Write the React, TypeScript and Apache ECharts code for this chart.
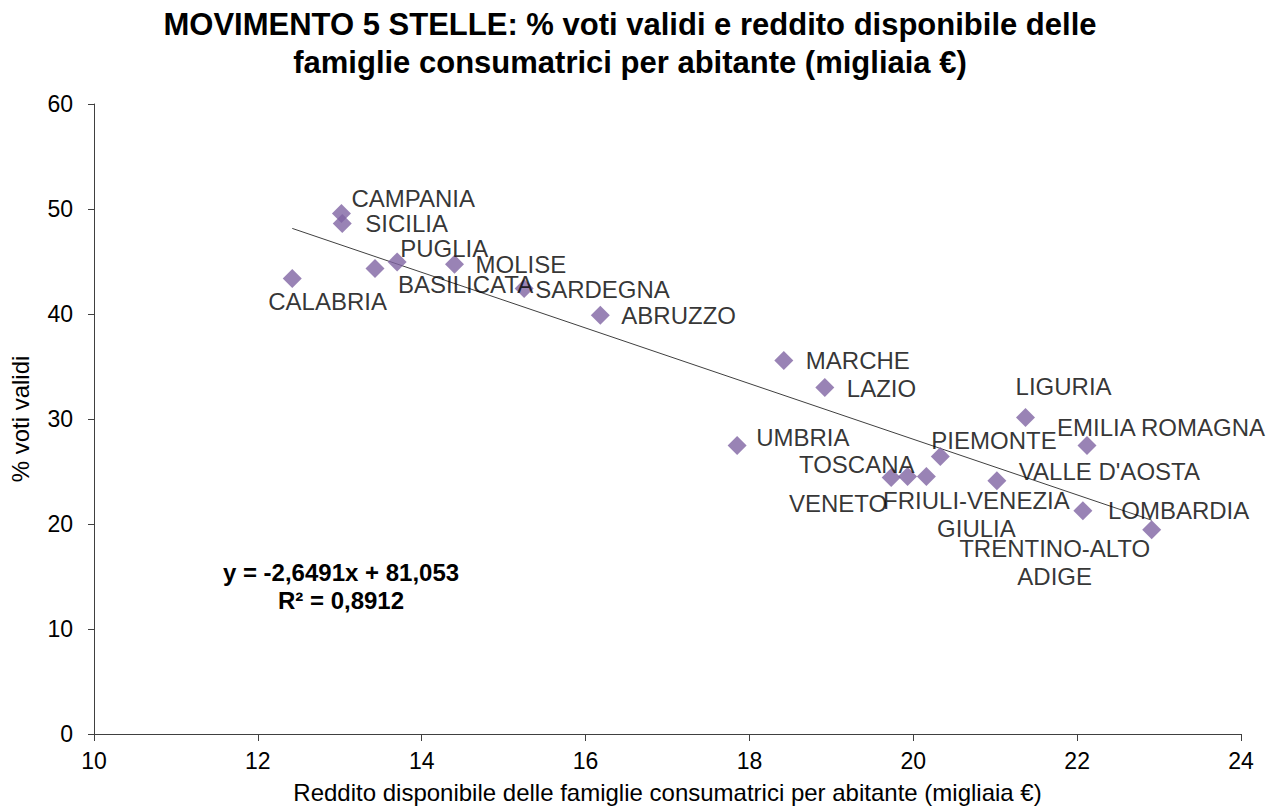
import React, { useEffect, useRef } from "react";
import * as echarts from "echarts";

const regions = [
  "CAMPANIA", "SICILIA", "CALABRIA", "BASILICATA", "PUGLIA", "MOLISE", "SARDEGNA",
  "ABRUZZO", "MARCHE", "LAZIO", "UMBRIA", "LIGURIA", "EMILIA ROMAGNA", "PIEMONTE",
  "TOSCANA", "VENETO", "FRIULI-VENEZIA\nGIULIA", "VALLE D'AOSTA", "LOMBARDIA",
  "TRENTINO-ALTO\nADIGE",
];
const income = [
  13.02, 13.03, 12.42, 13.43, 13.70, 14.40, 15.25,
  16.18, 18.42, 18.92, 17.85, 21.37, 22.12, 20.33,
  19.93, 19.73, 20.16, 21.02, 22.07, 22.91,
];
const votes = [
  49.58, 48.62, 43.37, 44.33, 44.96, 44.74, 42.42,
  39.87, 35.58, 33.01, 27.48, 30.14, 27.47, 26.42,
  24.52, 24.42, 24.52, 24.13, 21.27, 19.46,
];
// label placement (manual, as in the original chart)
const labelAlign = [
  "left", "left", "left", "left", "left", "left", "left",
  "left", "left", "left", "left", "left", "left", "left",
  "right", "right", "center", "left", "left", "center",
];
const labelDx = [10, 23, -24, 23, 3, 21, 11, 21, 22, 22, 19, -10, -30, -9, 7, -4, 50, 22, 25, -97];
const labelDy = [-15, 0, 23, 16, -13, 0, 1, 0, 0, 1, -8, -31, -18, -16, -12, 26, 38, -9, 0, 33];

const trendSlope = -2.6491;
const trendIntercept = 81.053;
const rSquared = 0.8912;

const xMin = 10, xMax = 24, xStep = 2;
const yMin = 0, yMax = 60, yStep = 10;

const titleText =
  "MOVIMENTO 5 STELLE: % voti validi e reddito disponibile delle\nfamiglie consumatrici per abitante (migliaia €)";
const xName = "Reddito disponibile delle famiglie consumatrici per abitante (migliaia €)";
const yName = "% voti validi";

const FONT = "'Liberation Sans', Arial, Helvetica, sans-serif";
const SYMBOL = 19;

const fmt = (v: number) => String(Math.abs(v)).replace(".", ",");

export default function App() {
  const ref = useRef<HTMLDivElement>(null);
  useEffect(() => {
    if (!ref.current) return;
    const chart = echarts.init(ref.current, null, { renderer: "svg" });

    const half = SYMBOL / 2;
    const points = regions.map((name, i) => ({
      name,
      value: [income[i], votes[i]],
      label: {
        position: [half + labelDx[i], half + labelDy[i]],
        align: labelAlign[i],
        verticalAlign: "middle",
      },
    }));

    const lo = Math.min(...income);
    const hi = Math.max(...income);
    const trend = [
      [lo, trendSlope * lo + trendIntercept],
      [hi, trendSlope * hi + trendIntercept],
    ];

    const eq =
      `y = ${trendSlope < 0 ? "-" : ""}${fmt(trendSlope)}x + ${fmt(trendIntercept)}\n` +
      `R² = ${fmt(rSquared)}`;

    chart.setOption({
      animation: false,
      backgroundColor: "#ffffff",
      title: {
        text: titleText,
        left: 630,
        top: 5,
        padding: 0,
        textAlign: "center",
        textStyle: {
          fontFamily: FONT,
          fontSize: 31,
          fontWeight: "bold",
          color: "#000",
          lineHeight: 38,
        },
      },
      grid: { left: 90, right: 31, top: 104, bottom: 75 },
      xAxis: {
        type: "value",
        min: xMin,
        max: xMax,
        interval: xStep,
        name: xName,
        nameLocation: "middle",
        nameGap: 46,
        nameTextStyle: { fontFamily: FONT, fontSize: 24, color: "#000" },
        axisLine: { show: true, lineStyle: { color: "#404040", width: 1 } },
        axisTick: { show: true, length: 7, lineStyle: { color: "#404040" } },
        axisLabel: { fontFamily: FONT, fontSize: 23, color: "#000", margin: 15 },
        splitLine: { show: false },
      },
      yAxis: {
        type: "value",
        min: yMin,
        max: yMax,
        interval: yStep,
        name: yName,
        nameLocation: "middle",
        nameGap: 62,
        nameRotate: 90,
        nameTextStyle: { fontFamily: FONT, fontSize: 24, color: "#000" },
        axisLine: { show: true, lineStyle: { color: "#404040", width: 1 } },
        axisTick: { show: true, length: 6, lineStyle: { color: "#404040" } },
        axisLabel: { fontFamily: FONT, fontSize: 23, color: "#000", margin: 21 },
        splitLine: { show: false },
      },
      graphic: [
        {
          type: "text",
          x: 341,
          y: 586,
          style: {
            text: eq,
            fontFamily: FONT,
            fontSize: 24,
            fontWeight: "bold",
            fill: "#000",
            align: "center",
            verticalAlign: "middle",
            lineHeight: 28,
          },
        },
      ],
      series: [
        {
          type: "line",
          data: trend,
          symbol: "none",
          lineStyle: { color: "#404040", width: 1 },
          z: 1,
          silent: true,
        },
        {
          type: "scatter",
          data: points,
          symbol: "diamond",
          symbolSize: SYMBOL,
          itemStyle: { color: "#8064A2" },
          z: 2,
          label: {
            show: true,
            formatter: "{b}",
            fontFamily: FONT,
            fontSize: 24,
            color: "#000",
            lineHeight: 28,
          },
          labelLayout: { hideOverlap: false },
        },
      ],
    });
    return () => chart.dispose();
  }, []);
  return (
    <div
      ref={ref}
      style={{ position: "fixed", left: 0, top: 0, width: 1272, height: 809, background: "#fff" }}
    />
  );
}
